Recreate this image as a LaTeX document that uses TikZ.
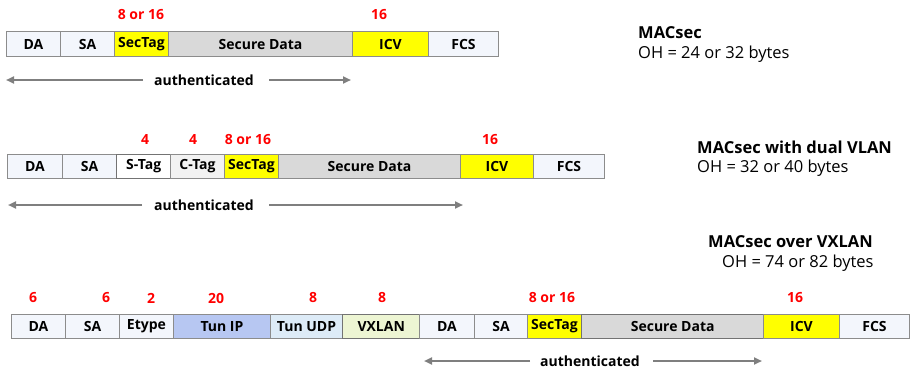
\documentclass[tikz,border=0pt]{standalone}
\usepackage{fontspec}
\setmainfont{Open Sans}
\usepackage{xcolor}
\usetikzlibrary{arrows.meta}

\definecolor{fieldbg}{HTML}{F3F6FC}
\definecolor{fieldline}{HTML}{8C8C8C}
\definecolor{ctagbg}{HTML}{F2F2F2}
\definecolor{secbg}{HTML}{FFFF00}
\definecolor{databg}{HTML}{D9D9D9}
\definecolor{tunipbg}{HTML}{B7C7F2}
\definecolor{tunudpbg}{HTML}{DDEBF7}
\definecolor{vxlanbg}{HTML}{EDF5D3}
\definecolor{authgray}{HTML}{7F7F7F}
\definecolor{sizered}{HTML}{FF0000}

\tikzset{
  field/.style={draw=fieldline, line width=1pt, fill=fieldbg, minimum height=24.5pt,
    inner sep=0pt, anchor=west, font=\bfseries\fontsize{14}{16}\selectfont},
  size/.style={text=sizered, font=\bfseries\fontsize{14}{16}\selectfont},
  authtext/.style={font=\bfseries\fontsize{14}{16}\selectfont},
  authline/.style={draw=authgray, line width=2pt, -{Triangle[length=8pt,width=7pt]}},
  title/.style={anchor=west, inner sep=0pt, font=\bfseries\fontsize{16.5}{18}\selectfont},
  overhead/.style={anchor=west, inner sep=0pt, font=\fontsize{16.5}{18}\selectfont}
}

\begin{document}
\begin{tikzpicture}[x=1pt,y=-1pt]
                \useasboundingbox (0,0) rectangle (910,369);
                % MACsec
                \node[field, minimum width=54pt] (da1) at (6,44) {DA};
                \node[field, minimum width=54pt] (sa1) at (60,44) {SA};
                \node[field, minimum width=54pt, fill=secbg] (sectag1) at (114,44) {SecTag};
                \node[field, minimum width=184pt, fill=databg] (data1) at (168,44) {Secure Data};
                \node[field, minimum width=76pt, fill=secbg] (icv1) at (352,44) {ICV};
                \node[field, minimum width=70pt] (fcs1) at (428,44) {FCS};
                \node[size] (s1a) at (141,15) {8 or 16};
                \node[size] (s1b) at (379,15) {16};
                \node[authtext] (auth1) at (204,80) {authenticated};
                \coordinate (auth1l) at (6,80);
                \coordinate (auth1r) at (351,80);
                \draw[authline] (143,80) -- (auth1l);
                \draw[authline] (269,80) -- (auth1r);
                \node[title] (t1) at (638,33) {MACsec};
                \node[overhead] (oh1) at (638,54) {OH = 24 or 32 bytes};

                % MACsec with dual VLAN
                \node[field, minimum width=55pt] (da2) at (7,166.5) {DA};
                \node[field, minimum width=54pt] (sa2) at (62,166.5) {SA};
                \node[field, minimum width=54pt, fill=white, draw=gray!90!black, line width=1.4pt] (stag2) at (116,166.5) {S-Tag};
                \node[field, minimum width=54pt, fill=ctagbg] (ctag2) at (170,166.5) {C-Tag};
                \node[field, minimum width=54pt, fill=secbg] (sectag2) at (224,166.5) {SecTag};
                \node[field, minimum width=182pt, fill=databg] (data2) at (278,166.5) {Secure Data};
                \node[field, minimum width=73pt, fill=secbg] (icv2) at (460,166.5) {ICV};
                \node[field, minimum width=71pt] (fcs2) at (533,166.5) {FCS};
                \node[size] (s2a) at (145,140) {4};
                \node[size] (s2b) at (193,140) {4};
                \node[size] (s2c) at (248,140) {8 or 16};
                \node[size] (s2d) at (490,140) {16};
                \node[authtext] (auth2) at (204,205) {authenticated};
                \coordinate (auth2l) at (8,205);
                \coordinate (auth2r) at (463,205);
                \draw[authline] (142,205) -- (auth2l);
                \draw[authline] (269,205) -- (auth2r);
                \node[title] (t2) at (697,147) {MACsec with dual VLAN};
                \node[overhead] (oh2) at (697,168) {OH = 32 or 40 bytes};

                % MACsec over VXLAN
                \node[field, minimum width=54pt] (da3) at (11,326.5) {DA};
                \node[field, minimum width=54pt] (sa3) at (65,326.5) {SA};
                \node[field, minimum width=54pt] (etype3) at (119,326.5) {Etype};
                \node[field, minimum width=97pt, fill=tunipbg] (tunip3) at (173,326.5) {Tun IP};
                \node[field, minimum width=72pt, fill=tunudpbg] (tunudp3) at (270,326.5) {Tun UDP};
                \node[field, minimum width=77pt, fill=vxlanbg, draw=gray!90!black, line width=1.4pt] (vxlan3) at (342,326.5) {VXLAN};
                \node[field, minimum width=55pt] (ida3) at (419,326.5) {DA};
                \node[field, minimum width=53pt] (isa3) at (474,326.5) {SA};
                \node[field, minimum width=54pt, fill=secbg] (sectag3) at (527,326.5) {SecTag};
                \node[field, minimum width=182pt, fill=databg, draw=gray!90!black, line width=1.4pt] (data3) at (581,326.5) {Secure Data};
                \node[field, minimum width=76pt, fill=secbg] (icv3) at (763,326.5) {ICV};
                \node[field, minimum width=70pt] (fcs3) at (839,326.5) {FCS};
                \node[size] (s3a) at (33,298) {6};
                \node[size] (s3b) at (106,298) {6};
                \node[size] (s3c) at (151,298) {2};
                \node[size] (s3d) at (216,298) {20};
                \node[size] (s3e) at (313,298) {8};
                \node[size] (s3f) at (382,298) {8};
                \node[size] (s3g) at (552,298) {8 or 16};
                \node[size] (s3h) at (795,298) {16};
                \node[authtext] (auth3) at (590,361) {authenticated};
                \coordinate (auth3l) at (424,361);
                \coordinate (auth3r) at (762,361);
                \draw[authline] (530,361) -- (auth3l);
                \draw[authline] (653,361) -- (auth3r);
                \node[title] (t3) at (708,242) {MACsec over VXLAN};
                \node[overhead] (oh3) at (722,263) {OH = 74 or 82 bytes};
            \end{tikzpicture}
\end{document}
